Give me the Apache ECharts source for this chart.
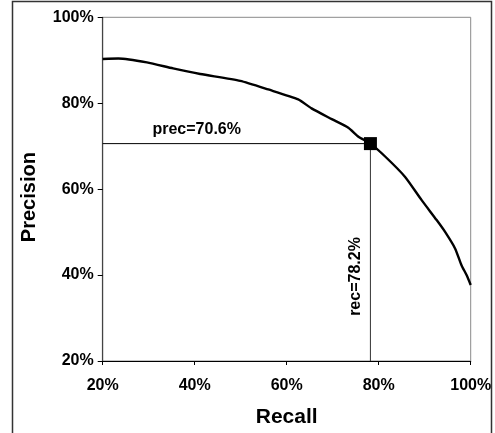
<!DOCTYPE html>
<html>
<head>
<meta charset="utf-8">
<script src="https://cdn.jsdelivr.net/npm/echarts@6/dist/echarts.min.js"></script>
<style>
html,body{margin:0;padding:0;background:#fff;}
#chart{width:495px;height:433px;}
</style>
</head>
<body>
<div id="chart"></div>
<script>
// Precision-recall curve (values in %)
const recall    = [20, 23.4, 29.6, 35.3, 41.2, 49.9, 56.0, 62.5, 65.4, 69.8, 73.4, 75.6, 78.2, 81.4, 85.7, 89.3, 92.6, 94.4, 96.6, 98.0, 99.1, 100];
const precision = [90.3, 90.4, 89.5, 88.1, 86.8, 85.2, 83.2, 80.9, 78.8, 76.3, 74.3, 72.2, 70.6, 67.6, 62.9, 57.5, 52.8, 50.1, 46.2, 42.3, 40.0, 37.7];
const opRecall = 78.2;
const opPrecision = 70.6;
const axisTicks = [20, 40, 60, 80, 100];
const xTitle = 'Recall';
const yTitle = 'Precision';

const curve = recall.map((r, i) => [r, precision[i]]);
const font = '"Liberation Sans", Arial, sans-serif';

const chart = echarts.init(document.getElementById('chart'), null, {renderer: 'canvas'});
chart.setOption({
  animation: false,
  backgroundColor: '#fff',
  grid: {left: 102.7, top: 17.3, right: 24.3, bottom: 72, show: true, borderColor: '#8a8a8a', borderWidth: 1, backgroundColor: 'transparent'},
  xAxis: {
    type: 'value', min: axisTicks[0], max: axisTicks[axisTicks.length - 1], interval: 20,
    name: xTitle, nameLocation: 'middle', nameGap: 46,
    nameTextStyle: {fontFamily: font, fontWeight: 'bold', fontSize: 21, color: '#000'},
    axisLine: {show: true, onZero: false, lineStyle: {color: '#000', width: 1.2}},
    axisTick: {show: true, inside: false, length: 4, lineStyle: {color: '#000'}},
    axisLabel: {formatter: '{value}%', fontFamily: font, fontWeight: 'bold', fontSize: 16, color: '#000', margin: 17},
    splitLine: {show: false}
  },
  yAxis: {
    type: 'value', min: axisTicks[0], max: axisTicks[axisTicks.length - 1], interval: 20,
    name: yTitle, nameLocation: 'middle', nameGap: 63,
    nameTextStyle: {fontFamily: font, fontWeight: 'bold', fontSize: 20, color: '#000', padding: [0, 16, 0, 0]},
    axisLine: {show: true, onZero: false, lineStyle: {color: '#444', width: 1.2}},
    axisTick: {show: true, inside: false, length: 5, lineStyle: {color: '#000'}},
    axisLabel: {formatter: '{value}%', fontFamily: font, fontWeight: 'bold', fontSize: 16, color: '#000', margin: 9},
    splitLine: {show: false}
  },
  graphic: [
    {type: 'rect', shape: {x: 12.5, y: 1.5, width: 479, height: 445}, style: {fill: 'none', stroke: '#333', lineWidth: 1.5}, silent: true, z: -1},
    {type: 'text', x: 196.7, y: 130, style: {text: 'prec=' + opPrecision + '%', font: 'bold 16px ' + font, fill: '#000', align: 'center', verticalAlign: 'middle'}},
    {type: 'text', x: 356, y: 276.5, rotation: Math.PI / 2, style: {text: 'rec=' + opRecall + '%', font: 'bold 16px ' + font, fill: '#000', align: 'center', verticalAlign: 'middle'}}
  ],
  series: [
    {
      type: 'line', data: curve, smooth: 0.2, showSymbol: false,
      lineStyle: {color: '#000', width: 2.4}, z: 3
    },
    {
      type: 'line', data: [[axisTicks[0], opPrecision], [opRecall, opPrecision]], showSymbol: false,
      lineStyle: {color: '#000', width: 1}, z: 2
    },
    {
      type: 'line', data: [[opRecall, axisTicks[0]], [opRecall, opPrecision]], showSymbol: false,
      lineStyle: {color: '#333', width: 1}, z: 2
    },
    {
      type: 'scatter', data: [[opRecall, opPrecision]], symbol: 'rect', symbolSize: 13,
      itemStyle: {color: '#000', opacity: 1}, z: 5
    }
  ]
});
</script>
</body>
</html>
